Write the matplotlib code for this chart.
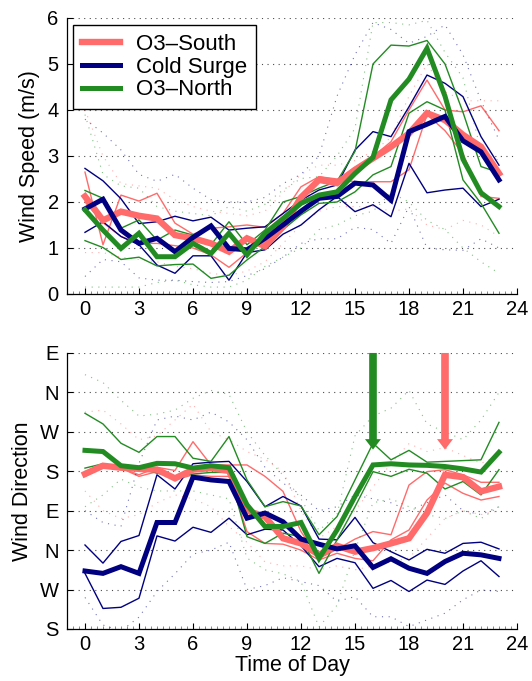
import matplotlib
matplotlib.use("Agg")
import matplotlib.pyplot as plt
from matplotlib.ticker import MultipleLocator

plt.rcParams['font.family'] = ['Liberation Sans', 'DejaVu Sans']

#DATA
hours = list(range(24))
group_names = ["O3–South", "Cold Surge", "O3–North"]
group_colors = ["#ff6b6b", "#000080", "#228b22"]

#wind speed (m/s): mean, upper/lower solid envelope, upper/lower dotted envelope
ws_south_mean = [2.12, 1.6, 1.79, 1.7, 1.64, 1.28, 1.21, 1.1, 0.92, 1.21, 1.04, 1.46, 2.1, 2.48, 2.41, 2.7, 2.95, 3.2, 3.49, 3.93, 3.78, 3.46, 3.2, 2.62]
ws_south_hi = [2.65, 1.07, 2.15, 2.02, 2.19, 1.54, 1.3, 1.43, 1.46, 1.5, 1.45, 1.75, 2.33, 2.55, 2.48, 2.75, 2.99, 3.31, 4.0, 4.65, 4.0, 3.96, 4.09, 3.55]
ws_south_lo = [2.0, 1.55, 1.25, 1.1, 1.1, 1.05, 1.0, 0.85, 0.58, 0.9, 1.15, 1.6, 2.05, 2.55, 2.5, 2.44, 2.44, 2.44, 2.7, 3.9, 3.55, 3.05, 2.12, 2.08]
ws_south_p90 = [4.0, 3.0, 2.4, 2.35, 2.3, 2.05, 1.9, 1.8, 1.75, 1.7, 1.8, 2.2, 2.6, 2.8, 2.8, 2.9, 3.1, 3.4, 4.3, 5.0, 4.4, 4.2, 4.2, 4.2]
ws_south_p10 = [0.9, 0.9, 0.8, 0.75, 0.7, 0.6, 0.55, 0.45, 0.4, 0.5, 0.7, 1.1, 1.5, 1.8, 1.9, 1.9, 1.9, 1.8, 1.85, 1.5, 1.4, 1.6, 1.5, 1.25]

ws_cold_mean = [1.85, 2.06, 1.39, 1.1, 1.21, 0.92, 1.23, 1.48, 0.99, 0.96, 1.21, 1.5, 1.8, 2.08, 2.12, 2.41, 2.37, 2.04, 3.53, 3.69, 3.86, 3.33, 3.09, 2.48]
ws_cold_hi = [2.73, 2.46, 2.07, 1.53, 1.57, 1.69, 1.59, 1.67, 1.39, 1.43, 1.46, 1.75, 2.04, 2.26, 2.37, 3.13, 3.53, 3.42, 4.07, 4.76, 4.58, 4.29, 3.42, 2.8]
ws_cold_lo = [1.34, 1.57, 1.25, 1.07, 0.63, 0.45, 0.83, 0.83, 0.3, 0.9, 0.96, 1.3, 1.5, 1.83, 2.12, 1.79, 1.94, 1.68, 2.84, 2.2, 2.26, 2.3, 1.9, 2.06]
ws_cold_p90 = [3.8, 3.5, 3.13, 2.6, 2.45, 2.6, 2.3, 2.05, 2.0, 2.0, 2.1, 2.4, 2.6, 3.0, 4.3, 5.2, 5.9, 5.75, 5.45, 5.6, 5.85, 5.2, 4.2, 3.35]
ws_cold_p10 = [0.38, 0.75, 0.7, 0.35, 0.3, 0.3, 0.27, 0.25, 0.27, 0.4, 0.55, 0.8, 1.1, 1.2, 1.2, 1.45, 1.4, 1.1, 1.9, 1.0, 0.96, 0.95, 1.2, 1.0]

ws_north_mean = [1.83, 1.39, 0.99, 1.32, 0.81, 0.81, 1.1, 0.88, 1.32, 0.85, 1.32, 1.64, 1.97, 2.15, 2.22, 2.62, 2.97, 4.22, 4.67, 5.34, 4.3, 2.93, 2.2, 1.9]
ws_north_hi = [2.25, 2.08, 1.43, 1.61, 1.17, 1.39, 1.28, 1.07, 1.57, 1.07, 1.39, 2.0, 2.12, 2.3, 2.45, 3.1, 5.0, 5.41, 5.39, 5.51, 5.0, 3.95, 2.77, 2.64]
ws_north_lo = [1.16, 1.01, 0.75, 0.8, 0.61, 0.64, 0.65, 0.34, 0.41, 0.74, 1.03, 1.4, 1.72, 1.97, 2.0, 2.22, 2.59, 2.77, 3.93, 4.18, 4.0, 2.48, 1.97, 1.32]
ws_north_p90 = [3.9, 2.6, 2.35, 2.3, 1.9, 1.8, 1.75, 1.7, 1.9, 1.8, 1.95, 2.26, 2.51, 2.55, 3.0, 3.6, 5.9, 5.9, 5.85, 5.95, 5.25, 4.7, 3.1, 2.9]
ws_north_p10 = [0.15, 0.15, 0.15, 0.15, 0.25, 0.3, 0.2, 0.15, 0.15, 0.3, 0.6, 0.8, 1.0, 1.4, 1.5, 1.7, 1.8, 2.2, 2.0, 1.6, 1.4, 1.0, 0.7, 0.45]

#wind direction, in compass steps above S (0=S, 1=W, 2=N, 3=E, 4=S, 5=W, 6=N, 7=E)
wd_south_mean = [3.93, 4.14, 4.09, 4.06, 4.04, 3.82, 4.04, 4.08, 4.01, 3.0, 2.85, 2.3, 2.17, 1.88, 2.11, 1.96, 2.05, 2.17, 2.3, 2.94, 3.91, 3.85, 3.49, 3.61]
wd_south_hi = [3.99, 4.16, 4.08, 3.91, 4.1, 4.02, 4.75, 4.16, 4.16, 4.16, 3.87, 3.49, 2.47, 1.79, 2.02, 2.28, 2.47, 2.39, 3.65, 3.99, 4.04, 3.91, 3.72, 3.72]
wd_south_lo = [3.87, 4.12, 4.08, 3.87, 3.99, 3.78, 3.91, 3.87, 3.87, 2.47, 2.17, 2.15, 2.0, 1.75, 1.92, 1.79, 1.73, 2.26, 2.51, 3.27, 3.7, 3.44, 3.27, 3.36]
wd_south_p90 = [5.5, 5.55, 5.2, 4.8, 4.9, 5.3, 5.7, 5.0, 4.8, 4.5, 4.3, 4.0, 3.0, 2.3, 2.6, 3.0, 3.6, 4.2, 4.7, 4.5, 4.6, 4.4, 4.2, 4.4]
wd_south_p10 = [3.5, 3.0, 2.8, 2.9, 3.2, 3.4, 3.3, 3.1, 2.6, 2.2, 1.7, 1.6, 1.6, 1.5, 1.6, 1.5, 1.6, 1.7, 1.8, 2.3, 2.8, 3.0, 2.9, 3.0]

wd_cold_mean = [1.47, 1.41, 1.58, 1.41, 2.7, 2.7, 3.85, 3.78, 3.74, 2.81, 2.94, 2.72, 2.28, 2.15, 2.03, 2.11, 1.56, 1.78, 1.54, 1.41, 1.71, 1.92, 1.88, 1.79]
wd_cold_hi = [2.13, 1.67, 2.22, 2.37, 3.91, 3.55, 4.19, 4.23, 4.25, 3.74, 3.1, 3.36, 3.12, 2.28, 2.26, 2.83, 2.19, 1.96, 1.75, 2.02, 1.92, 2.17, 2.2, 2.03]
wd_cold_lo = [1.41, 0.52, 0.55, 0.78, 2.36, 2.23, 2.58, 2.45, 2.81, 2.39, 2.53, 2.51, 2.11, 1.58, 1.79, 1.68, 1.03, 1.23, 0.95, 1.24, 1.13, 1.47, 1.73, 1.33]
wd_cold_p90 = [3.0, 2.7, 2.6, 4.2, 5.3, 5.4, 5.3, 5.5, 5.25, 4.8, 4.1, 3.7, 3.4, 3.0, 3.1, 3.4, 3.3, 3.2, 3.0, 3.2, 3.4, 3.0, 2.9, 3.1]
wd_cold_p10 = [0.8, 0.1, -0.05, 0.3, 0.95, 1.4, 1.9, 2.0, 2.2, 1.0, 1.1, 1.3, 1.2, 1.1, 0.7, 0.82, 0.31, 0.31, 0.06, 0.23, 0.4, 0.74, 0.99, 0.95]

wd_north_mean = [4.53, 4.5, 4.14, 4.09, 4.2, 4.19, 4.08, 4.14, 4.09, 3.15, 2.6, 2.6, 2.7, 1.79, 2.51, 3.36, 4.16, 4.19, 4.16, 4.15, 4.12, 4.06, 3.98, 4.48]
wd_north_hi = [5.47, 5.2, 4.71, 4.48, 4.88, 4.88, 4.33, 4.25, 4.88, 3.78, 3.1, 3.23, 3.12, 2.39, 2.85, 3.78, 4.71, 4.29, 4.53, 4.23, 4.25, 4.27, 4.29, 5.24]
wd_north_lo = [4.08, 4.19, 4.1, 4.08, 3.95, 3.87, 3.93, 3.97, 3.97, 2.34, 2.17, 2.43, 2.34, 1.41, 2.26, 3.1, 3.99, 3.87, 4.05, 3.95, 3.55, 3.74, 3.4, 4.04]
wd_north_p90 = [6.45, 6.25, 5.8, 5.4, 5.45, 5.55, 5.85, 6.05, 5.95, 5.0, 4.4, 3.9, 3.3, 2.5, 2.9, 4.9, 5.4, 5.6, 6.05, 5.2, 5.0, 4.8, 5.3, 6.0]
wd_north_p10 = [3.1, 3.4, 3.8, 3.6, 3.5, 3.5, 3.5, 3.4, 3.3, 1.8, 1.5, 1.4, 1.2, 0.05, 0.6, 2.0, 3.2, 3.3, 3.1, 2.9, 2.8, 3.0, 2.8, 3.1]

compass_labels = ["S", "W", "N", "E", "S", "W", "N", "E"]
#onset hours marked by arrows (O3-North, O3-South) and where the arrow tips stop
arrow_hours = [16, 20]
arrow_tip = 4.55


#function that draws one group's envelopes (dotted outer, thin inner)
def draw_group(ax, series, color):
    mean, hi, lo, p90, p10 = series
    for s in (p90, p10):
        ax.plot(hours, s, color=color, lw=0.8, ls=(0, (1, 5)), alpha=0.55)
    for s in (hi, lo):
        ax.plot(hours, s, color=color, lw=1.0)
    return mean


#function that styles an axis the way the old figure had it
def style_axis(ax):
    for side in ("top", "right"):
        ax.spines[side].set_visible(False)
    for side in ("left", "bottom"):
        ax.spines[side].set_linewidth(0.9)
    ax.set_xlim(-1, 24)
    ax.set_xticks(range(0, 25, 3))
    ax.xaxis.set_minor_locator(MultipleLocator(1 / 3))
    ax.tick_params(which="major", direction="in", length=4, width=0.8, labelsize=14.5, pad=4)
    ax.tick_params(which="minor", axis="x", direction="in", length=2, width=0.6, color="0.45")
    ax.tick_params(axis="y", pad=6)
    ax.yaxis.grid(True, color="0.3", ls=(0, (1, 4)), lw=0.8)
    ax.set_axisbelow(True)


def main():
    fig = plt.figure(figsize=(5.32, 6.81), dpi=100)
    ax1 = fig.add_axes([0.1259, 0.5683, 0.8459, 0.4053])
    ax2 = fig.add_axes([0.1259, 0.0764, 0.8459, 0.4053])

    speed = [
        (ws_south_mean, ws_south_hi, ws_south_lo, ws_south_p90, ws_south_p10),
        (ws_cold_mean, ws_cold_hi, ws_cold_lo, ws_cold_p90, ws_cold_p10),
        (ws_north_mean, ws_north_hi, ws_north_lo, ws_north_p90, ws_north_p10),
    ]
    direction = [
        (wd_south_mean, wd_south_hi, wd_south_lo, wd_south_p90, wd_south_p10),
        (wd_cold_mean, wd_cold_hi, wd_cold_lo, wd_cold_p90, wd_cold_p10),
        (wd_north_mean, wd_north_hi, wd_north_lo, wd_north_p90, wd_north_p10),
    ]
    thick_widths = [4.6, 3.6, 3.6]

    #panel 1: wind speed
    means = [draw_group(ax1, s, c) for s, c in zip(speed, group_colors)]
    handles = []
    for m, c, w, n in zip(means, group_colors, thick_widths, group_names):
        line, = ax1.plot(hours, m, color=c, lw=w, label=n, solid_joinstyle="miter")
        handles.append(line)
    style_axis(ax1)
    ax1.set_ylim(0, 6)
    ax1.set_yticks(range(0, 7))
    ax1.set_ylabel("Wind Speed (m/s)", fontsize=15.5, labelpad=5)
    leg = ax1.legend(handles=handles, loc="upper left", bbox_to_anchor=(0.137, 0.9633),
                     bbox_transform=fig.transFigure, borderaxespad=0, fontsize=16,
                     fancybox=False, framealpha=1, edgecolor="black", labelspacing=0.08,
                     borderpad=0.4, handlelength=1.7, handletextpad=0.75)
    leg.get_frame().set_linewidth(1.0)

    #panel 2: wind direction
    means = [draw_group(ax2, s, c) for s, c in zip(direction, group_colors)]
    for m, c, w in zip(means, group_colors, thick_widths):
        ax2.plot(hours, m, color=c, lw=w, solid_joinstyle="miter")
    style_axis(ax2)
    ax2.set_ylim(0, 7)
    ax2.set_yticks(range(0, 8))
    ax2.set_yticklabels(compass_labels)
    ax2.set_ylabel("Wind Direction", fontsize=15.5, labelpad=5)
    ax2.set_xlabel("Time of Day", fontsize=15.5, labelpad=1)

    #arrows showing the wind shift
    for h, c in zip(arrow_hours, [group_colors[2], group_colors[0]]):
        ax2.annotate("", xy=(h, arrow_tip), xytext=(h, 7.0),
                     arrowprops=dict(arrowstyle="simple,head_width=1.15,head_length=0.75,tail_width=0.55",
                                     color=c, mutation_scale=10, shrinkA=0, shrinkB=0, lw=0))

    fig.savefig("out.png", dpi=100)


if __name__ == "__main__":
    main()
